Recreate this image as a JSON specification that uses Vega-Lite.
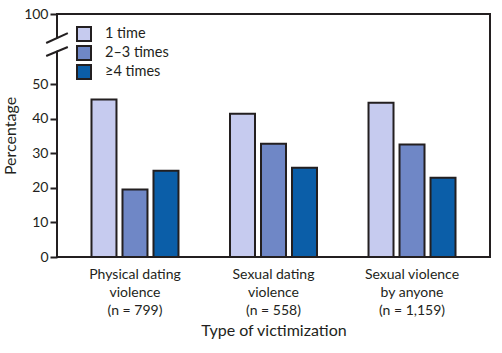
{
  "$schema": "https://vega.github.io/schema/vega-lite/v6.json",
  "width": 433,
  "height": 243,
  "autosize": {"type": "none"},
  "padding": {"left": 57, "top": 14, "right": 12, "bottom": 96},
  "config": {
    "font": "Lato",
    "view": {"stroke": "#231f20", "strokeWidth": 2},
    "axis": {"grid": false, "domain": false, "labelColor": "#231f20", "titleColor": "#231f20", "labelFont": "Lato", "titleFont": "Lato", "titleFontWeight": "normal"},
    "legend": {"labelFont": "Lato"}
  },
  "layer": [
    {
      "data": {"values": [
        {"type": "Physical dating|violence|(n = 799)", "freq": "1 time", "pct": 45.5},
        {"type": "Physical dating|violence|(n = 799)", "freq": "2–3 times", "pct": 19.5},
        {"type": "Physical dating|violence|(n = 799)", "freq": "≥4 times", "pct": 24.9},
        {"type": "Sexual dating|violence|(n = 558)", "freq": "1 time", "pct": 41.4},
        {"type": "Sexual dating|violence|(n = 558)", "freq": "2–3 times", "pct": 32.7},
        {"type": "Sexual dating|violence|(n = 558)", "freq": "≥4 times", "pct": 25.8},
        {"type": "Sexual violence|by anyone|(n = 1,159)", "freq": "1 time", "pct": 44.6},
        {"type": "Sexual violence|by anyone|(n = 1,159)", "freq": "2–3 times", "pct": 32.5},
        {"type": "Sexual violence|by anyone|(n = 1,159)", "freq": "≥4 times", "pct": 22.9}
      ]},
      "mark": {"type": "bar", "stroke": "#231f20", "strokeWidth": 2},
      "encoding": {
        "x": {
          "field": "type", "type": "nominal",
          "sort": ["Physical dating|violence|(n = 799)", "Sexual dating|violence|(n = 558)", "Sexual violence|by anyone|(n = 1,159)"],
          "scale": {"paddingInner": 0.372, "paddingOuter": 0.249},
          "axis": {
            "title": "Type of victimization", "ticks": false, "labelAngle": 0,
            "labelExpr": "split(datum.label, '|')",
            "labelFontSize": 14, "labelLineHeight": 18, "labelPadding": 10,
            "titleFontSize": 16, "titlePadding": 5
          }
        },
        "xOffset": {
          "field": "freq", "type": "nominal",
          "sort": ["1 time", "2–3 times", "≥4 times"],
          "scale": {"paddingInner": 0.194, "paddingOuter": 0}
        },
        "y": {
          "field": "pct", "type": "quantitative", "title": "Percentage",
          "scale": {"domain": [0, 50, 100], "range": [243, 70, 0], "nice": false, "zero": false},
          "axis": {
            "values": [0, 10, 20, 30, 40, 50, 100],
            "tickSize": 7, "tickWidth": 2, "tickColor": "#231f20",
            "labelFontSize": 14, "labelPadding": 2,
            "titleFontSize": 16, "titlePadding": 5
          }
        },
        "color": {
          "field": "freq", "type": "nominal",
          "sort": ["1 time", "2–3 times", "≥4 times"],
          "scale": {"domain": ["1 time", "2–3 times", "≥4 times"], "range": ["#c6cbef", "#6f87c6", "#0b5ea8"]},
          "legend": {
            "orient": "none", "legendX": 19, "legendY": 12, "title": null,
            "symbolType": "square", "symbolSize": 196,
            "symbolStrokeColor": "#231f20", "symbolStrokeWidth": 2,
            "labelFontSize": 14.5, "labelColor": "#231f20",
            "rowPadding": -4, "labelOffset": 13
          }
        }
      }
    },
    {
      "data": {"values": [
        {"part": "gap", "bx": -0.0139, "by": 76.2, "bx2": 0.0139, "by2": 79.9},
        {"part": "slash", "bx": -0.025, "by": 79.3, "bx2": 0.025, "by2": 86.4},
        {"part": "slash", "bx": -0.025, "by": 70.0, "bx2": 0.025, "by2": 76.4}
      ]},
      "layer": [
        {
          "transform": [{"filter": "datum.part === 'gap'"}],
          "mark": {"type": "rule", "color": "white", "strokeWidth": 11},
          "encoding": {
            "x": {"field": "bx", "type": "quantitative", "scale": {"domain": [0, 1], "nice": false, "zero": false}, "axis": null},
            "x2": {"field": "bx2"},
            "y": {"field": "by", "type": "quantitative", "title": "Percentage"},
            "y2": {"field": "by2"}
          }
        },
        {
          "transform": [{"filter": "datum.part === 'slash'"}],
          "mark": {"type": "rule", "color": "#231f20", "strokeWidth": 2},
          "encoding": {
            "x": {"field": "bx", "type": "quantitative", "scale": {"domain": [0, 1], "nice": false, "zero": false}, "axis": null},
            "x2": {"field": "bx2"},
            "y": {"field": "by", "type": "quantitative", "title": "Percentage"},
            "y2": {"field": "by2"}
          }
        }
      ]
    }
  ],
  "resolve": {"scale": {"x": "independent"}}
}
